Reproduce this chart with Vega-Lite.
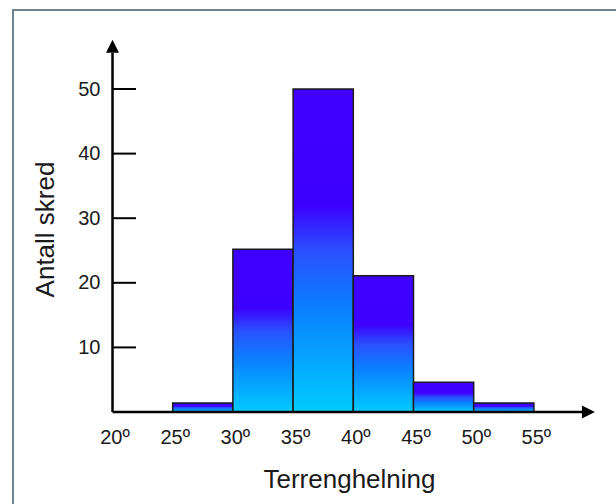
{
  "$schema": "https://vega.github.io/schema/vega-lite/v6.json",
  "width": 610,
  "height": 500,
  "autosize": {"type": "none"},
  "padding": {"left": 13, "top": 10, "right": 0, "bottom": 0},
  "background": "white",
  "config": {
    "view": {"stroke": "#6e8291", "strokeWidth": 2},
    "font": "Liberation Sans"
  },
  "layer": [
    {
      "data": {
        "values": [
          {"start": 25, "end": 30, "count": 1.4},
          {"start": 30, "end": 35, "count": 25.2},
          {"start": 35, "end": 40, "count": 50},
          {"start": 40, "end": 45, "count": 21.1},
          {"start": 45, "end": 50, "count": 4.6},
          {"start": 50, "end": 55, "count": 1.4}
        ]
      },
      "mark": {
        "type": "bar",
        "stroke": "#1c1c1c",
        "strokeWidth": 1.5,
        "fill": {
          "gradient": "linear",
          "x1": 0, "y1": 0, "x2": 0, "y2": 1,
          "stops": [
            {"offset": 0, "color": "#3f00ff"},
            {"offset": 0.36, "color": "#3c00ff"},
            {"offset": 0.5, "color": "#2a50ff"},
            {"offset": 0.68, "color": "#0a80ff"},
            {"offset": 1, "color": "#00ccff"}
          ]
        }
      },
      "encoding": {
        "x": {
          "field": "start",
          "type": "quantitative",
          "scale": {"domain": [11.736, 62.4], "nice": false, "zero": false},
          "axis": {
            "orient": "bottom",
            "offset": -98,
            "domain": false,
            "grid": false,
            "ticks": false,
            "values": [20, 25, 30, 35, 40, 45, 50, 55],
            "labelExpr": "datum.value + 'º'",
            "labelFontSize": 20,
            "labelColor": "#1a1a1a",
            "labelPadding": 31,
            "labelBaseline": "alphabetic",
            "labelFlush": false,
            "labelOverlap": false,
            "labelOffset": 2,
            "title": "Terrenghelning",
            "titleFontSize": 26,
            "titleFontWeight": "normal",
            "titleColor": "#1a1a1a",
            "titleX": 336,
            "titleY": 75,
            "titleBaseline": "alphabetic",
            "titleAlign": "center",
            "titleAngle": 0
          }
        },
        "x2": {"field": "end"},
        "y": {
          "field": "count",
          "type": "quantitative",
          "scale": {"domain": [-15.17, 62.23], "nice": false, "zero": false},
          "axis": {
            "orient": "left",
            "offset": -100,
            "domain": false,
            "grid": false,
            "ticks": false,
            "values": [10, 20, 30, 40, 50],
            "labelFontSize": 20,
            "labelColor": "#1a1a1a",
            "labelPadding": 13,
            "labelOverlap": false,
            "labelFlush": false,
            "title": "Antall skred",
            "titleFontSize": 26,
            "titleFontWeight": "normal",
            "titleColor": "#1a1a1a",
            "titleAngle": -90,
            "titleX": -60,
            "titleY": 219,
            "titleBaseline": "alphabetic",
            "titleAlign": "center"
          }
        },
        "y2": {"datum": 0}
      }
    },
    {
      "data": {"values": [{"tick": 10}, {"tick": 20}, {"tick": 30}, {"tick": 40}, {"tick": 50}]},
      "mark": {"type": "rule", "stroke": "black", "strokeWidth": 2},
      "encoding": {
        "x": {"datum": 20, "type": "quantitative"},
        "x2": {"datum": 21.95},
        "y": {"field": "tick", "type": "quantitative"}
      }
    },
    {
      "data": {"values": [{}]},
      "mark": {"type": "rule", "stroke": "black", "strokeWidth": 2.5},
      "encoding": {
        "x": {"datum": 20, "type": "quantitative"},
        "y": {"datum": 0, "type": "quantitative"},
        "y2": {"datum": 55.6}
      }
    },
    {
      "data": {"values": [{}]},
      "mark": {"type": "rule", "stroke": "black", "strokeWidth": 2.5},
      "encoding": {
        "x": {"datum": 20, "type": "quantitative"},
        "x2": {"datum": 59.0},
        "y": {"datum": 0, "type": "quantitative"}
      }
    },
    {
      "data": {"values": [{}]},
      "mark": {"type": "point", "shape": "M0,-1L1,1L-1,1Z", "size": 169, "filled": true, "color": "black", "opacity": 1},
      "encoding": {
        "x": {"datum": 20, "type": "quantitative"},
        "y": {"datum": 56.6, "type": "quantitative"}
      }
    },
    {
      "data": {"values": [{}]},
      "mark": {"type": "point", "shape": "M1,0L-1,1L-1,-1Z", "size": 169, "filled": true, "color": "black", "opacity": 1},
      "encoding": {
        "x": {"datum": 59.53, "type": "quantitative"},
        "y": {"datum": 0, "type": "quantitative"}
      }
    }
  ]
}
